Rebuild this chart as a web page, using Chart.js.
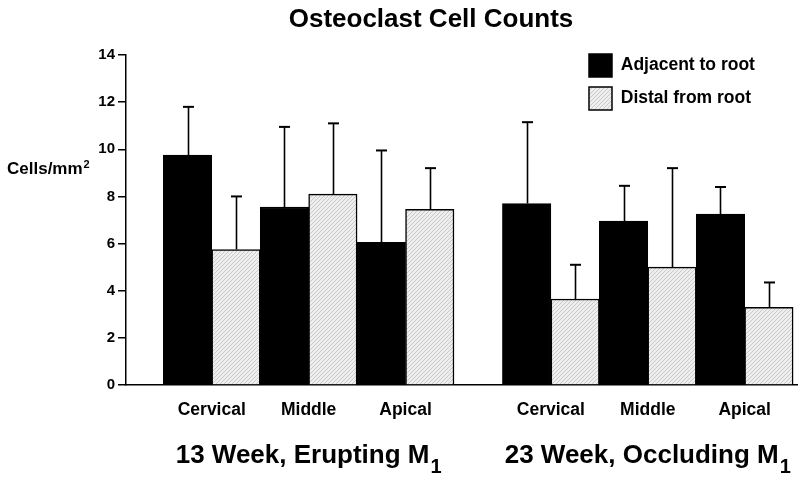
<!DOCTYPE html>
<html><head><meta charset="utf-8">
<script src="https://cdn.jsdelivr.net/npm/chart.js@4"></script>
<style>html,body{margin:0;padding:0;background:#fff}</style>
</head><body>
<canvas id="c" width="800" height="482"></canvas>
<script>
// ---- data ----
const chartTitle = 'Osteoclast Cell Counts';
const yAxisLabel = 'Cells/mm';
const yAxisLabelSup = '2';
const regions = ['Cervical', 'Middle', 'Apical'];
const groupLabels = ['13 Week, Erupting M', '23 Week, Occluding M'];
const groupLabelSub = '1';
const seriesNames = ['Adjacent to root', 'Distal from root'];
const adjacent13 = [9.75, 7.55, 6.05];
const distal13   = [5.75, 8.1, 7.45];
const adjacent23 = [7.7, 6.95, 7.25];
const distal23   = [3.65, 5.0, 3.3];
const adjacentErr13 = [2.05, 3.4, 3.9];
const distalErr13   = [2.25, 3.0, 1.75];
const adjacentErr23 = [3.45, 1.5, 1.15];
const distalErr23   = [1.45, 4.2, 1.05];
const yTicks = [0, 2, 4, 6, 8, 10, 12, 14];

// ---- structure ----
const SLOTS_PER_GROUP = 7; // 3 regions x 2 bars + 1 gap slot
const slot = (g, c, s) => g * SLOTS_PER_GROUP + c * 2 + s;
const toPoints = (arrs, s) => arrs.flatMap((arr, g) => arr.map((v, c) => ({x: slot(g, c, s), y: v})));
const tickPositions = [0, 1].flatMap(g => regions.map((r, c) => slot(g, c, 0) + 0.5));
const tickLabels = [0, 1].flatMap(() => regions);

const FONT = '"Liberation Sans", Arial, Helvetica, sans-serif';
const canvas = document.getElementById('c');
const ctx0 = canvas.getContext('2d');

const pc = document.createElement('canvas');
pc.width = 4; pc.height = 4;
const p = pc.getContext('2d');
p.fillStyle = '#eeeeee'; p.fillRect(0, 0, 4, 4);
p.fillStyle = '#c9c9c9';
for (let i = 0; i < 4; i++) p.fillRect(i, 3 - i, 1, 1);
const hatch = ctx0.createPattern(pc, 'repeat');

const errorBars = {
  id: 'errorBars',
  afterDatasetsDraw(chart) {
    const ctx = chart.ctx, ys = chart.scales.y;
    ctx.save();
    ctx.strokeStyle = '#000';
    chart.data.datasets.forEach((ds, di) => {
      const meta = chart.getDatasetMeta(di);
      meta.data.forEach((bar, i) => {
        const top = ys.getPixelForValue(ds.data[i].y + ds.errors[i]);
        const x = Math.round(bar.x) + 0.5;
        ctx.lineWidth = 1.6;
        ctx.beginPath(); ctx.moveTo(x, bar.y); ctx.lineTo(x, top); ctx.stroke();
        ctx.lineWidth = 2;
        ctx.beginPath(); ctx.moveTo(x - 5.5, top); ctx.lineTo(x + 5.5, top); ctx.stroke();
      });
    });
    ctx.restore();
  }
};

const texts = {
  id: 'texts',
  afterDraw(chart) {
    const ctx = chart.ctx, xs = chart.scales.x;
    ctx.save();
    ctx.fillStyle = '#000';
    ctx.textBaseline = 'alphabetic';
    ctx.font = 'bold 26px ' + FONT;
    ctx.textAlign = 'center';
    ctx.fillText(chartTitle, 431, 27);
    ctx.textAlign = 'left';
    ctx.font = 'bold 17px ' + FONT;
    ctx.fillText(yAxisLabel, 7, 174);
    const w = ctx.measureText(yAxisLabel).width;
    ctx.font = 'bold 11px ' + FONT;
    ctx.fillText(yAxisLabelSup, 7 + w + 1, 168);
    groupLabels.forEach((lab, g) => {
      const cx = xs.getPixelForValue(slot(g, 1, 0) + 0.5);
      ctx.font = 'bold 26px ' + FONT;
      const mw = ctx.measureText(lab).width;
      ctx.font = 'bold 20px ' + FONT;
      const sw = ctx.measureText(groupLabelSub).width;
      const x0 = cx - (mw + sw + 1) / 2;
      ctx.font = 'bold 26px ' + FONT;
      ctx.fillText(lab, x0, 463);
      ctx.font = 'bold 20px ' + FONT;
      ctx.fillText(groupLabelSub, x0 + mw + 1, 473);
    });
    ctx.restore();
  }
};

const legendPos = {
  id: 'legendPos',
  afterLayout(chart) {
    const l = chart.legend;
    const w = l.width, h = l.height;
    l.left = 579; l.top = 44; l.right = 579 + w; l.bottom = 44 + h;
  }
};

new Chart(canvas, {
  type: 'bar',
  data: {
    datasets: [
      {
        label: seriesNames[0],
        data: toPoints([adjacent13, adjacent23], 0),
        errors: [...adjacentErr13, ...adjacentErr23],
        backgroundColor: '#000', borderColor: '#000', borderWidth: 1.5,
        grouped: false, barPercentage: 1, categoryPercentage: 1
      },
      {
        label: seriesNames[1],
        data: toPoints([distal13, distal23], 1),
        errors: [...distalErr13, ...distalErr23],
        backgroundColor: hatch, borderColor: '#000', borderWidth: 1.5,
        grouped: false, barPercentage: 1, categoryPercentage: 1
      }
    ]
  },
  options: {
    responsive: false,
    animation: false,
    devicePixelRatio: 1,
    layout: {padding: {top: 55, right: 3, left: 0, bottom: 0}},
    scales: {
      x: {
        type: 'linear', min: -1.27, max: 12.58, offset: false,
        afterBuildTicks: s => { s.ticks = tickPositions.map(v => ({value: v})); },
        afterFit: s => { s.height = 97; },
        ticks: {
          callback: (v, i) => tickLabels[i],
          autoSkip: false, maxRotation: 0, padding: 15,
          color: '#000', font: {family: FONT, size: 17.5, weight: 'bold'}
        },
        grid: {display: true, offset: false, drawOnChartArea: false, drawTicks: false, color: '#000'},
        border: {display: true, color: '#000', width: 1.5}
      },
      y: {
        min: 0, max: 14,
        afterBuildTicks: s => { s.ticks = yTicks.map(v => ({value: v})); },
        afterFit: s => { s.width = 126; },
        ticks: {color: '#000', padding: 3, font: {family: FONT, size: 15, weight: 'bold'}},
        grid: {drawOnChartArea: false, drawTicks: true, tickLength: 8, color: '#000', lineWidth: 1.5},
        border: {display: true, color: '#000', width: 1.5}
      }
    },
    plugins: {
      legend: {
        position: 'chartArea', align: 'start',
        labels: {boxWidth: 23, boxHeight: 23, padding: 10, color: '#000',
                 font: {family: FONT, size: 17.5, weight: 'bold'}}
      },
      tooltip: {enabled: false},
      title: {display: false}
    }
  },
  plugins: [errorBars, texts, legendPos]
});
</script>
</body></html>
